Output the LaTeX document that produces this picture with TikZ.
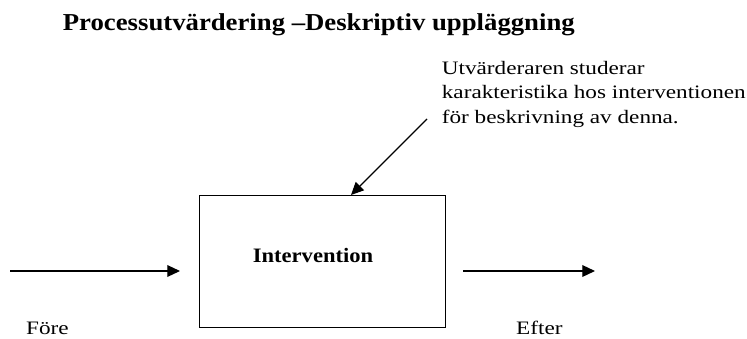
\documentclass[tikz,border=0pt]{standalone}
\usepackage{fontspec}
\setmainfont{Liberation Serif}
\newfontfamily\bodyfont{Liberation Serif}[FakeStretch=1.22]
\newfontfamily\titlefont{Liberation Serif}[FakeStretch=1.10]
\usetikzlibrary{arrows.meta}
\tikzset{
  arr/.style={line width=1.2pt, -{Triangle[length=12.7pt,width=11.7pt]}},
  lbl/.style={inner sep=0pt, anchor=base west, font=\bodyfont\fontsize{19pt}{24.5pt}\selectfont},
  boxst/.style={draw, line width=1.2pt, inner sep=0pt, minimum width=246pt, minimum height=132pt, anchor=north west},
}
\begin{document}
\begin{tikzpicture}[x=1pt,y=-1pt]
\useasboundingbox (0,0) rectangle (747,338);
\node[inner sep=0pt, anchor=base west, font=\titlefont\bfseries\fontsize{24.3pt}{28pt}\selectfont] (title) at (62.7,30.7) {Processutvärdering –Deskriptiv uppläggning};
\node[lbl, align=left] (note) at (441.7,123.3) {Utvärderaren studerar\\karakteristika hos interventionen\\för beskrivning av denna.};
\node[boxst] (box) at (199,195) {};
\node[inner sep=0pt, anchor=base west, font=\titlefont\bfseries\fontsize{20.5pt}{24pt}\selectfont] (intv) at (252.7,262.3) {Intervention};
\coordinate (inA) at (10,271);
\coordinate (inB) at (180,271);
\coordinate (outA) at (463,271);
\coordinate (outB) at (595,271);
\coordinate (noteA) at (427,119);
\coordinate (noteB) at (351,195);
\draw[arr] (inA) -- (inB);
\draw[arr] (outA) -- (outB);
\draw[arr] (noteA) -- (noteB);
\node[lbl] (fore) at (26,334) {Före};
\node[lbl] (efter) at (516,334) {Efter};
\end{tikzpicture}
\end{document}
